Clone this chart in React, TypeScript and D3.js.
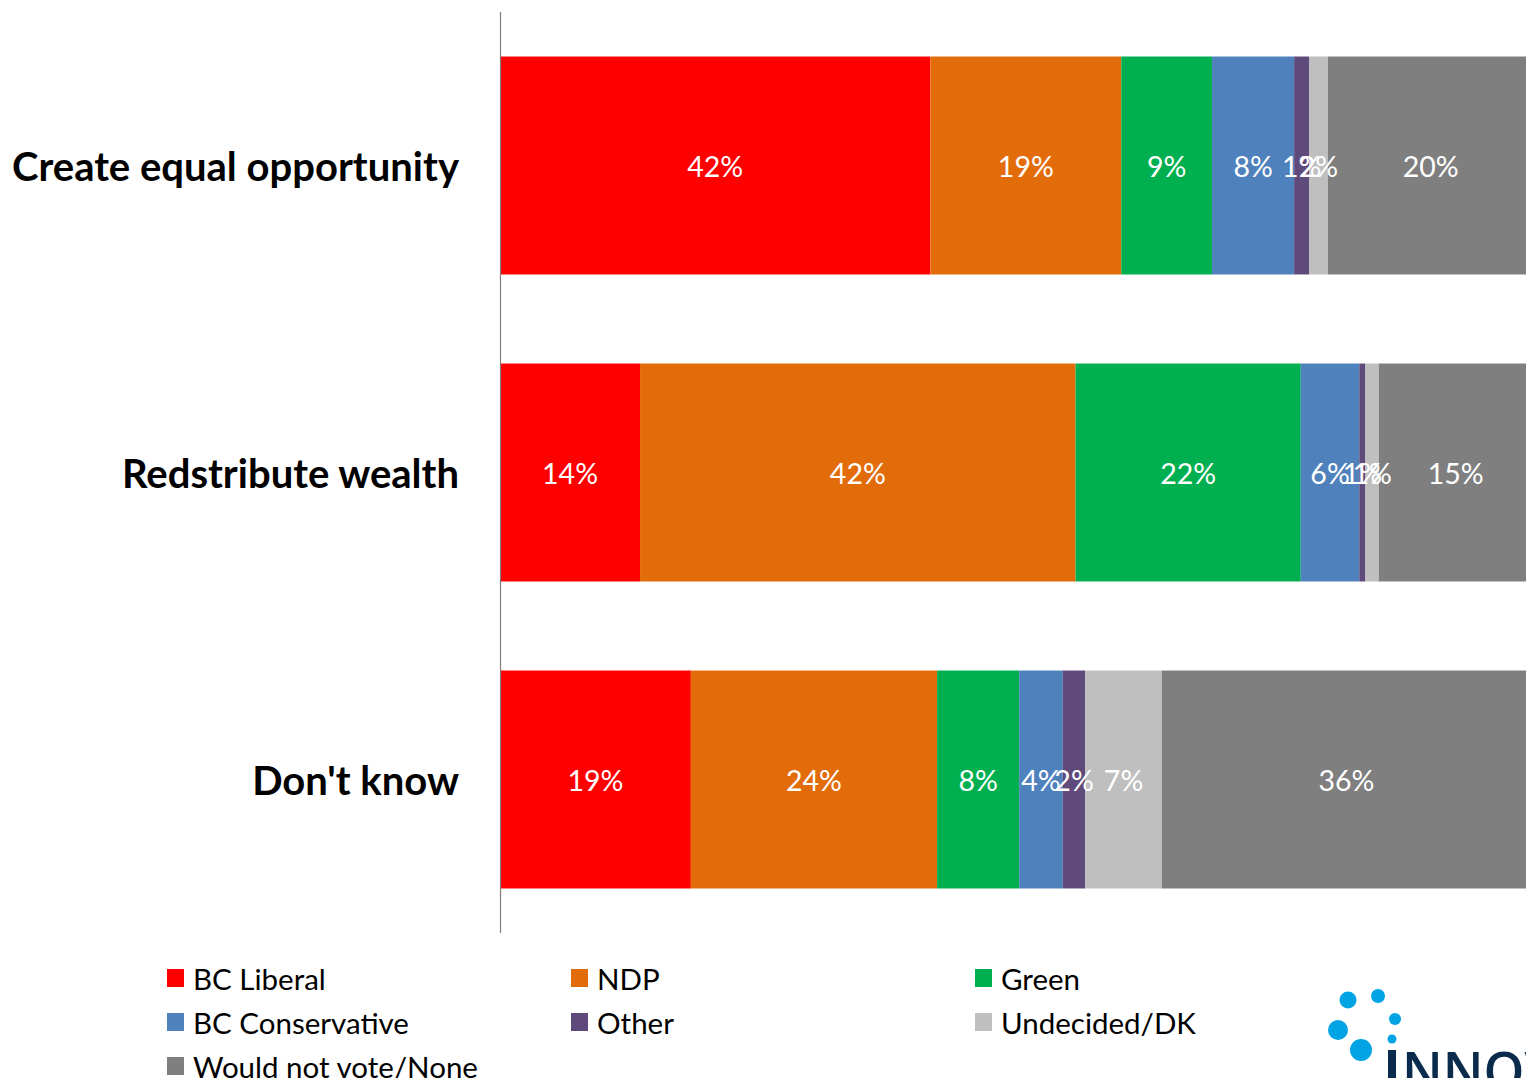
import React from "react";
import * as d3 from "d3";

const categories = ["Create equal opportunity", "Redstribute wealth", "Don't know"];
const seriesNames = ["BC Liberal", "NDP", "Green", "BC Conservative", "Other", "Undecided/DK", "Would not vote/None"];
const seriesColors = ["#FF0000", "#E36C0A", "#00B050", "#4F81BD", "#604A7B", "#BFBFBF", "#7F7F7F"];
const bcLiberal = [41.95, 13.65, 18.6];
const ndp = [18.6, 42.45, 24.0];
const green = [8.85, 21.95, 8.0];
const bcConservative = [8.0, 5.7, 4.25];
const other = [1.45, 0.6, 2.2];
const undecided = [1.85, 1.3, 7.45];
const wouldNotVote = [20.0, 15.0, 36.0];
const seriesValues = [bcLiberal, ndp, green, bcConservative, other, undecided, wouldNotVote];

const W = 1526;
const H = 1078;

export default function App() {
  const x = d3.scaleLinear().domain([0, 100]).range([500, 1526]);
  const y = d3.scaleBand<string>().domain(categories).range([12, 933]).paddingInner(0.29).paddingOuter(0.145);

  const rows = categories.map((c, i) => {
    const obj: any = { cat: c };
    seriesNames.forEach((s, j) => (obj[s] = seriesValues[j][i]));
    return obj;
  });
  const stack = d3.stack<any>().keys(seriesNames)(rows);

  const legendCols = [167, 571, 975];
  const legendRows = [978, 1022, 1066];

  return (
    <svg width={W} height={H} style={{ position: "absolute", left: 0, top: 0, background: "#fff" }}>
      {stack.map((layer, j) => (
        <g key={layer.key}>
          {layer.map((d, i) => {
            const x0 = x(d[0]);
            const x1 = Math.min(x(d[1]), W);
            const yy = y(categories[i])!;
            const bw = y.bandwidth();
            return <rect key={i} x={x0} y={yy} width={x1 - x0} height={bw} fill={seriesColors[j]} />;
          })}
        </g>
      ))}
      {stack.map((layer, j) => (
        <g key={"l" + layer.key}>
          {layer.map((d, i) => {
            const yy = y(categories[i])!;
            const bw = y.bandwidth();
            const cx = (x(d[0]) + x(d[1])) / 2;
            return (
              <text
                key={i}
                x={cx}
                y={yy + bw / 2}
                textAnchor="middle"
                dominantBaseline="central"
                fill="#fff"
                fontFamily="Lato, 'Open Sans', sans-serif"
                fontSize={28.5}
              >
                {Math.round(seriesValues[j][i])}%
              </text>
            );
          })}
        </g>
      ))}
      <line x1={500.5} x2={500.5} y1={12} y2={933} stroke="#7f7f7f" strokeWidth={1.2} />
      {categories.map((c) => (
        <text
          key={c}
          x={459}
          y={y(c)! + y.bandwidth() / 2}
          textAnchor="end"
          dominantBaseline="central"
          fontFamily="Lato, 'Open Sans', sans-serif"
          fontWeight="bold"
          fontSize={40}
          fill="#000"
        >
          {c}
        </text>
      ))}
      {seriesNames.map((s, j) => {
        const col = j % 3;
        const row = Math.floor(j / 3);
        const lx = legendCols[col];
        const ly = legendRows[row];
        return (
          <g key={s}>
            <rect x={lx} y={ly - 9} width={17} height={18} fill={seriesColors[j]} />
            <text
              x={lx + 26}
              y={ly}
              dominantBaseline="central"
              fontFamily="Lato, 'Open Sans', sans-serif"
              fontSize={29.5}
              fill="#000"
            >
              {s}
            </text>
          </g>
        );
      })}
      <g>
        <circle cx={1348} cy={1000} r={8.5} fill="#00A3E4" />
        <circle cx={1378} cy={996} r={7} fill="#00A3E4" />
        <circle cx={1338} cy={1030} r={10} fill="#00A3E4" />
        <circle cx={1395} cy={1019} r={6} fill="#00A3E4" />
        <circle cx={1392} cy={1039} r={4.5} fill="#00A3E4" />
        <circle cx={1361} cy={1050} r={11} fill="#00A3E4" />
        <rect x={1388} y={1050} width={8} height={40} fill="#0B2B4C" />
        <text x={1402} y={1090} fontFamily="'Open Sans', sans-serif" fontWeight="600" fontSize={52} fill="#0B2B4C">
          NNOVATIVE
        </text>
      </g>
    </svg>
  );
}
